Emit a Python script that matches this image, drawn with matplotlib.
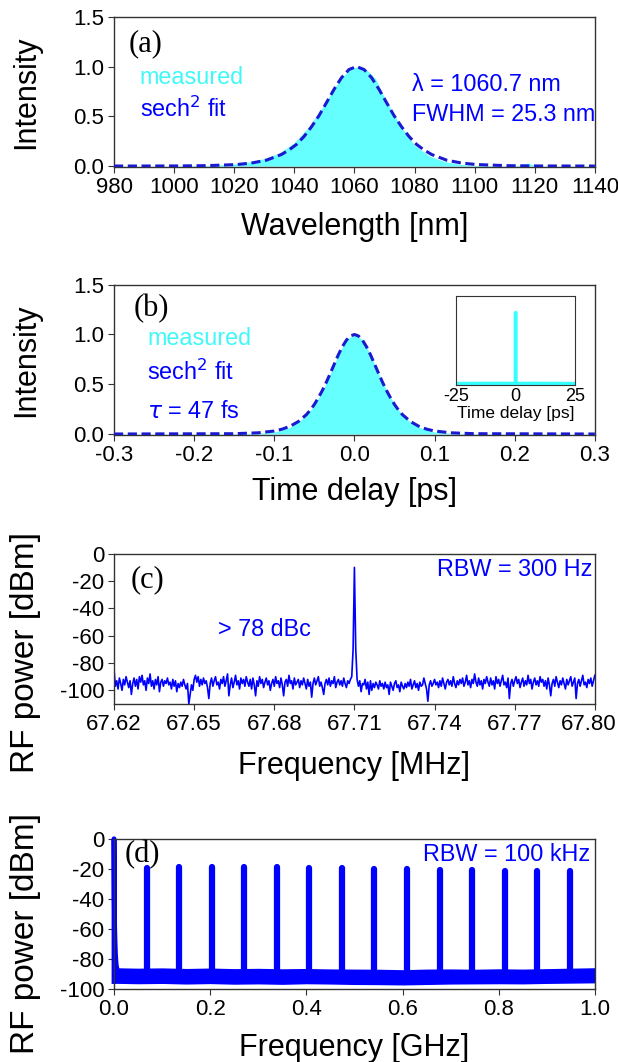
import numpy as np
import matplotlib
matplotlib.use("Agg")
import matplotlib.pyplot as plt
import matplotlib.transforms as mtransforms

plt.rcParams['font.family'] = ['Liberation Sans', 'DejaVu Sans']
plt.rcParams['axes.unicode_minus'] = False

# ---- (a) optical spectrum ----
spec_wl = [980, 1000, 1010, 1015, 1020, 1025, 1030, 1035, 1040, 1045, 1050, 1055, 1058, 1061,
           1064, 1067, 1070, 1075, 1080, 1085, 1090, 1095, 1100, 1110, 1114, 1116, 1118, 1120, 1140]
spec_int = [0.001, 0.002, 0.006, 0.012, 0.022, 0.042, 0.075, 0.13, 0.235, 0.40, 0.62, 0.86, 0.96, 1.0,
            0.97, 0.88, 0.69, 0.42, 0.21, 0.10, 0.045, 0.018, 0.007, 0.002, 0.004, 0.02, 0.03, 0.003, 0.001]
fit_wl = [980, 1000.7, 1010.7, 1020.7, 1025.7, 1030.7, 1035.7, 1038.2, 1040.7, 1043.2, 1045.7, 1048.2,
          1050.7, 1053.2, 1055.7, 1058.2, 1060.7, 1063.2, 1065.7, 1068.2, 1070.7, 1073.2, 1075.7,
          1078.2, 1080.7, 1083.2, 1085.7, 1090.7, 1095.7, 1100.7, 1110.7, 1120.7, 1140]
fit_int = [0.0003, 0.001, 0.004, 0.015, 0.030, 0.059, 0.116, 0.161, 0.217, 0.296, 0.394, 0.506,
           0.637, 0.770, 0.888, 0.970, 1.0, 0.970, 0.888, 0.770, 0.637, 0.506, 0.394,
           0.296, 0.217, 0.161, 0.116, 0.059, 0.030, 0.015, 0.004, 0.001, 0.0003]

# ---- (b) autocorrelation ----
ac_t = [-0.3, -0.15, -0.12, -0.1, -0.09, -0.08, -0.07, -0.06, -0.05, -0.04, -0.03, -0.02, -0.01, 0,
        0.01, 0.02, 0.03, 0.04, 0.05, 0.06, 0.07, 0.08, 0.09, 0.1, 0.12, 0.15, 0.3]
ac_int = [0.002, 0.003, 0.008, 0.02, 0.04, 0.07, 0.12, 0.19, 0.29, 0.43, 0.61, 0.80, 0.95, 1.0,
          0.95, 0.80, 0.61, 0.44, 0.30, 0.19, 0.12, 0.07, 0.04, 0.02, 0.008, 0.003, 0.002]
acfit_t = [-0.3, -0.15, -0.12, -0.1, -0.09, -0.08, -0.07, -0.06, -0.055, -0.05, -0.045, -0.04, -0.035,
           -0.03, -0.025, -0.02, -0.015, -0.01, -0.005, 0, 0.005, 0.01, 0.015, 0.02, 0.025, 0.03,
           0.035, 0.04, 0.045, 0.05, 0.055, 0.06, 0.07, 0.08, 0.09, 0.1, 0.12, 0.15, 0.3]
acfit_int = [0.0, 0.003, 0.012, 0.030, 0.049, 0.079, 0.125, 0.194, 0.241, 0.297, 0.364, 0.438, 0.521,
             0.612, 0.705, 0.797, 0.878, 0.943, 0.985, 1.0, 0.985, 0.943, 0.878, 0.797, 0.705, 0.612,
             0.521, 0.438, 0.364, 0.297, 0.241, 0.194, 0.125, 0.079, 0.049, 0.030, 0.012, 0.003, 0.0]
# inset, long range scan
inset_t = [-25, -5, -0.3, -0.1, -0.05, 0, 0.05, 0.1, 0.3, 5, 25]
inset_int = [0.01, 0.012, 0.01, 0.03, 0.3, 1.0, 0.3, 0.03, 0.01, 0.012, 0.01]

# ---- (c) RF fundamental, 67.62 - 67.80 MHz ----
rf_c = [-85, -97, -93, -99, -91, -95, -100, -92, -96, -90, -94, -98, -93, -103, -95, -91, -97, -92, -99, -90,
        -94, -89, -96, -93, -100, -91, -95, -88, -97, -93, -99, -92, -96, -90, -101, -94, -92, -97, -93, -95,
        -91, -96, -94, -99, -92, -97, -93, -101, -95, -98, -94, -97, -92, -96, -99, -95, -110, -103, -96, -100,
        -92, -89, -94, -90, -97, -92, -96, -91, -95, -93, -98, -106, -95, -91, -97, -93, -90, -96, -94, -99,
        -92, -95, -90, -97, -93, -88, -104, -96, -91, -98, -94, -89, -96, -93, -99, -91, -95, -92, -97, -90,
        -94, -97, -92, -99, -91, -96, -104, -93, -97, -90, -95, -92, -98, -94, -91, -96, -93, -100, -95, -92,
        -97, -90, -95, -93, -98, -91, -96, -104, -94, -92, -97, -89, -95, -93, -99, -91, -96, -94, -92, -98,
        -93, -96, -91, -95, -99, -92, -97, -94, -105, -95, -91, -96, -93, -90, -97, -94, -98, -103, -95, -92,
        -96, -91, -97, -93, -95, -90, -98, -94, -92, -96, -93, -97, -91, -95, -98, -93, -95, -92, -90, -70,
        -10,
        -70, -92, -97, -93, -101, -95, -96, -92, -99, -94, -103, -93, -100, -95, -98, -94, -96, -99, -93,
        -97, -95, -99, -94, -98, -96, -103, -94, -97, -100, -95, -93, -98, -96, -101, -94, -97, -99, -95, -98,
        -94, -97, -92, -99, -96, -93, -98, -95, -100, -94, -97, -96, -91, -95, -99, -108, -96, -93, -97, -95,
        -92, -96, -94, -98, -93, -97, -91, -95, -99, -94, -92, -96, -93, -97, -90, -95, -98, -93, -96, -92,
        -95, -91, -97, -94, -89, -96, -93, -98, -92, -95, -88, -94, -97, -91, -96, -93, -99, -92, -95, -90,
        -94, -97, -91, -96, -93, -99, -90, -95, -92, -97, -93, -89, -96, -94, -98, -91, -106, -95, -92, -97,
        -93, -90, -95, -92, -98, -94, -91, -97, -93, -96, -89, -95, -92, -99, -94, -91, -96, -93, -97, -90,
        -94, -92, -97, -93, -99, -91, -96, -104, -95, -92, -97, -90, -94, -98, -93, -96, -91, -95, -99, -92,
        -96, -93, -90, -97, -94, -91, -106, -95, -92, -97, -93, -89, -96, -94, -98, -92, -95, -91, -97, -93, -89]

# ---- (d) RF harmonics, 0 - 1 GHz ----
harm_f = [0.0677, 0.1354, 0.2031, 0.2708, 0.3386, 0.4063, 0.4740, 0.5417, 0.6094, 0.6771,
          0.7448, 0.8125, 0.8802, 0.9479]
harm_p = [-19.5, -18.5, -18.5, -19, -18.8, -19.3, -19.3, -19.8, -20.2, -20.5, -20.8, -21.3, -21.7, -21.7]
floor_f = [0.0, 0.05, 0.1, 0.15, 0.2, 0.25, 0.3, 0.35, 0.4, 0.45, 0.5, 0.55, 0.6, 0.65, 0.7, 0.75,
           0.8, 0.85, 0.9, 0.95, 1.0]
floor_hi = [-86.5, -86.8, -86.6, -87.0, -86.7, -87.1, -86.9, -87.2, -87.0, -87.3, -87.4, -87.5, -87.8,
            -87.4, -87.3, -87.5, -87.2, -87.4, -87.1, -86.8, -86.5]
floor_lo = [-95.5, -95.8, -95.6, -96.0, -95.7, -96.1, -95.9, -96.2, -95.8, -96.0, -96.3, -96.4, -96.6,
            -96.3, -96.0, -95.9, -95.8, -95.9, -95.6, -95.4, -95.2]
dc_f = [0.0, 0.0, 0.0006, 0.0012, 0.002, 0.003, 0.0045, 0.007]
dc_p = [-95, 0, -40, -58, -68, -77, -84, -88]

CYAN = '#66ffff'
CYAN_TXT = '#40f8f8'
BLUE = '#0000ff'
DASH = '#1a1ad0'
FRAME = '#333333'

fig = plt.figure(figsize=(6.18, 10.62), dpi=100)

L, W, H = 0.1845, 0.778, 0.1415
ax_a = fig.add_axes([L, 0.8427, W, H])
ax_b = fig.add_axes([L, 0.5904, W, H])
ax_c = fig.add_axes([L, 0.3371, W, H])
ax_d = fig.add_axes([L, 0.0687, W, H])


def style(ax):
    for s in ax.spines.values():
        s.set_color(FRAME)
        s.set_linewidth(1.0)
    ax.tick_params(direction='out', length=4, width=0.8, color=FRAME, labelsize=16, pad=3)


serif = dict(family='Liberation Serif', fontsize=22)
txt = dict(fontsize=16.8)

# (a)
ax_a.fill_between(spec_wl, spec_int, 0, color=CYAN, lw=0, zorder=2)
ax_a.plot(fit_wl, fit_int, color=DASH, lw=2.2, dashes=(3, 1.5), zorder=3)
ax_a.set_xlim(980, 1140)
ax_a.set_ylim(-0.01, 1.5)
ax_a.set_xticks(range(980, 1141, 20))
ax_a.set_yticks([0, 0.5, 1.0, 1.5])
ax_a.set_yticklabels(['0.0', '0.5', '1.0', '1.5'])
style(ax_a)
ax_a.set_xlabel('Wavelength [nm]', fontsize=22)
ax_a.set_ylabel('Intensity', fontsize=22)
ax_a.text(0.03, 0.82, '(a)', transform=ax_a.transAxes, ha='left', va='center', **serif)
ax_a.text(988.5, 0.89, 'measured', color=CYAN_TXT, va='center', **txt)
ax_a.text(988.5, 0.57, 'sech$^2$ fit', color=BLUE, va='center', **txt)
ax_a.text(1079.0, 0.815, '\u03bb = 1060.7 nm', color=BLUE, va='center', **txt)
ax_a.text(1079.0, 0.515, 'FWHM = 25.3 nm', color=BLUE, va='center', **txt)

# (b)
ax_b.fill_between(ac_t, ac_int, 0, color=CYAN, lw=0, zorder=2)
ax_b.plot(acfit_t, acfit_int, color=DASH, lw=2.2, dashes=(3, 1.5), zorder=3)
ax_b.set_xlim(-0.3, 0.3)
ax_b.set_ylim(-0.01, 1.5)
ax_b.set_xticks([-0.3, -0.2, -0.1, 0, 0.1, 0.2, 0.3])
ax_b.set_xticklabels(['-0.3', '-0.2', '-0.1', '0.0', '0.1', '0.2', '0.3'])
ax_b.set_yticks([0, 0.5, 1.0, 1.5])
ax_b.set_yticklabels(['0.0', '0.5', '1.0', '1.5'])
style(ax_b)
ax_b.set_xlabel('Time delay [ps]', fontsize=22)
ax_b.set_ylabel('Intensity', fontsize=22)
ax_b.text(0.04, 0.84, '(b)', transform=ax_b.transAxes, ha='left', va='center', **serif)
ax_b.text(-0.2587, 0.955, 'measured', color=CYAN_TXT, va='center', **txt)
ax_b.text(-0.2587, 0.625, 'sech$^2$ fit', color=BLUE, va='center', **txt)
ax_b.text(-0.2587, 0.23, r'$\tau$ = 47 fs', color=BLUE, va='center', **txt)

ins = fig.add_axes([0.738, 0.6375, 0.1926, 0.0838])
ins.plot(inset_t, inset_int, color='#33ffff', lw=2.5)
ins.set_xlim(-25, 25)
ins.set_ylim(-0.01, 1.23)
ins.set_xticks([-25, 0, 25])
ins.set_yticks([])
for s in ins.spines.values():
    s.set_color(FRAME)
    s.set_linewidth(0.8)
ins.tick_params(direction='in', length=0, labelsize=13, pad=2)
ins.set_xlabel('Time delay [ps]', fontsize=12.5, labelpad=1)

# (c)
freq_c = np.linspace(67.62, 67.80, len(rf_c))
ax_c.plot(freq_c, rf_c, color=BLUE, lw=1.2)
ax_c.set_xlim(67.62, 67.80)
ax_c.set_ylim(-110, 0)
ax_c.set_xticks([67.62, 67.65, 67.68, 67.71, 67.74, 67.77, 67.80])
ax_c.set_xticklabels(['67.62', '67.65', '67.68', '67.71', '67.74', '67.77', '67.80'])
ax_c.set_yticks([0, -20, -40, -60, -80, -100])
style(ax_c)
# last label sits on the figure edge; nudge it in so it is not clipped
last = ax_c.get_xticklabels()[-1]
last.set_transform(last.get_transform() + mtransforms.ScaledTranslation(-6 / 100, 0, fig.dpi_scale_trans))
ax_c.set_xlabel('Frequency [MHz]', fontsize=22)
ax_c.set_ylabel('RF power [dBm]', fontsize=24)
ax_c.text(0.035, 0.827, '(c)', transform=ax_c.transAxes, ha='left', va='center', **serif)
ax_c.text(0.995, 0.893, 'RBW = 300 Hz', transform=ax_c.transAxes, color=BLUE, ha='right', va='center', **txt)
ax_c.text(67.659, -55.5, '> 78 dBc', color=BLUE, va='center', **txt)

# (d)
ax_d.fill_between(floor_f, floor_lo, floor_hi, color=BLUE, lw=1.5)
ax_d.vlines(harm_f, -92, harm_p, color=BLUE, lw=4.5, capstyle='round')
ax_d.plot(dc_f, dc_p, color=BLUE, lw=3.5, clip_on=False)
ax_d.set_xlim(0, 1.0)
ax_d.set_ylim(-100, 0)
ax_d.set_xticks([0, 0.2, 0.4, 0.6, 0.8, 1.0])
ax_d.set_xticklabels(['0.0', '0.2', '0.4', '0.6', '0.8', '1.0'])
ax_d.set_yticks([0, -20, -40, -60, -80, -100])
style(ax_d)
ax_d.set_xlabel('Frequency [GHz]', fontsize=22)
ax_d.set_ylabel('RF power [dBm]', fontsize=24)
ax_d.text(0.023, 0.893, '(d)', transform=ax_d.transAxes, ha='left', va='center', **serif)
ax_d.text(0.99, 0.893, 'RBW = 100 kHz', transform=ax_d.transAxes, color=BLUE, ha='right', va='center', **txt)

for ax, xl, yc in [(ax_a, -0.30, 0.5), (ax_b, -0.28, 0.5), (ax_c, -0.31, 0.34), (ax_d, -0.29, 0.37)]:
    ax.xaxis.set_label_coords(0.5, xl)
    ax.yaxis.set_label_coords(-0.152, yc)

fig.savefig('out.png', dpi=100)
